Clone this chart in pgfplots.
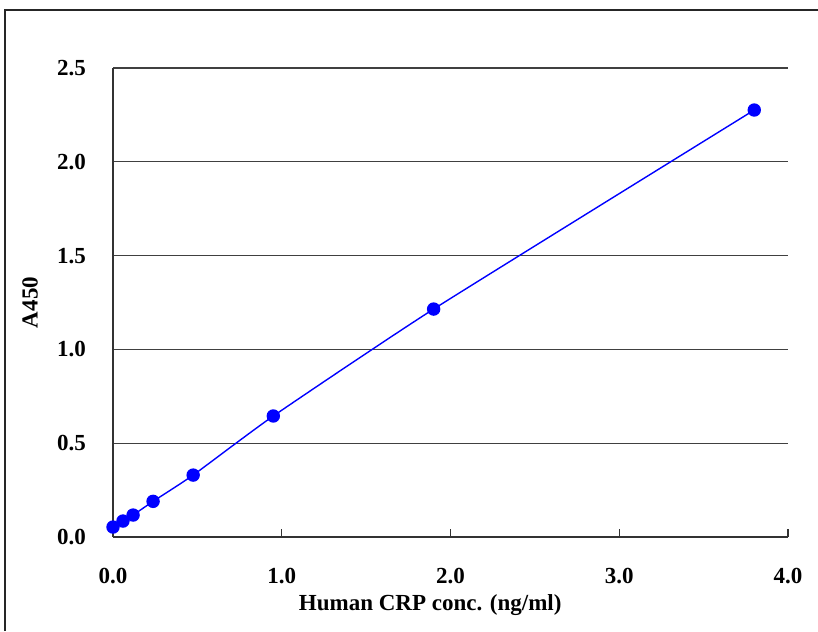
\documentclass[border=0pt]{standalone}
\usepackage{pgfplots}
\pgfplotsset{compat=1.18}
\usepackage{fontspec}
\setmainfont{Liberation Serif}
\begin{document}
\begin{tikzpicture}
\path[use as bounding box] (0,0) rectangle (409pt,315.5pt);
\draw[line width=0.9pt, black!85] (2.5pt,0) -- (2.5pt,310.5pt) -- (409pt,310.5pt);
\begin{axis}[
  at={(56.5pt,47pt)}, anchor=south west,
  scale only axis, width=337.5pt, height=234.5pt,
  xmin=0, xmax=4, ymin=0, ymax=2.5,
  axis x line=bottom, axis y line=left,
  axis line style={-, line width=0.8pt, black!80},
  xtick={0,1,2,3,4}, ytick={0,0.5,1,1.5,2,2.5},
  x tick style={black!80, line width=0.6pt},
  xtick align=inside, major tick length=4pt,
  y tick style={draw=none},
  ymajorgrids, grid style={black!75, line width=0.6pt},
  /pgf/number format/assume math mode=true,
  /pgf/number format/.cd, fixed, fixed zerofill, precision=1, /tikz/.cd,
  tick label style={font=\fontsize{11.5}{13.5}\selectfont\bfseries},
  xticklabel style={yshift=-12pt},
  yticklabel style={xshift=-8pt},
  xlabel={Human CRP conc. (ng/ml)},
  ylabel={A450},
  label style={font=\fontsize{11.5}{13.5}\selectfont\bfseries},
  xlabel style={at={(axis description cs:0.47,0)}, anchor=north, yshift=-25pt},
  ylabel style={at={(axis description cs:0,0.5)}, anchor=south, yshift=34pt},
  clip=false,
]
\addplot[blue, line width=0.7pt, smooth, tension=0.3, mark=*, mark size=3pt, mark options={fill=blue, draw=blue}]
coordinates {
(0,0.053) (0.059,0.085) (0.119,0.117) (0.2375,0.19) (0.475,0.33) (0.95,0.645) (1.9,1.215) (3.8,2.276)
};
\end{axis}
\end{tikzpicture}
\end{document}
